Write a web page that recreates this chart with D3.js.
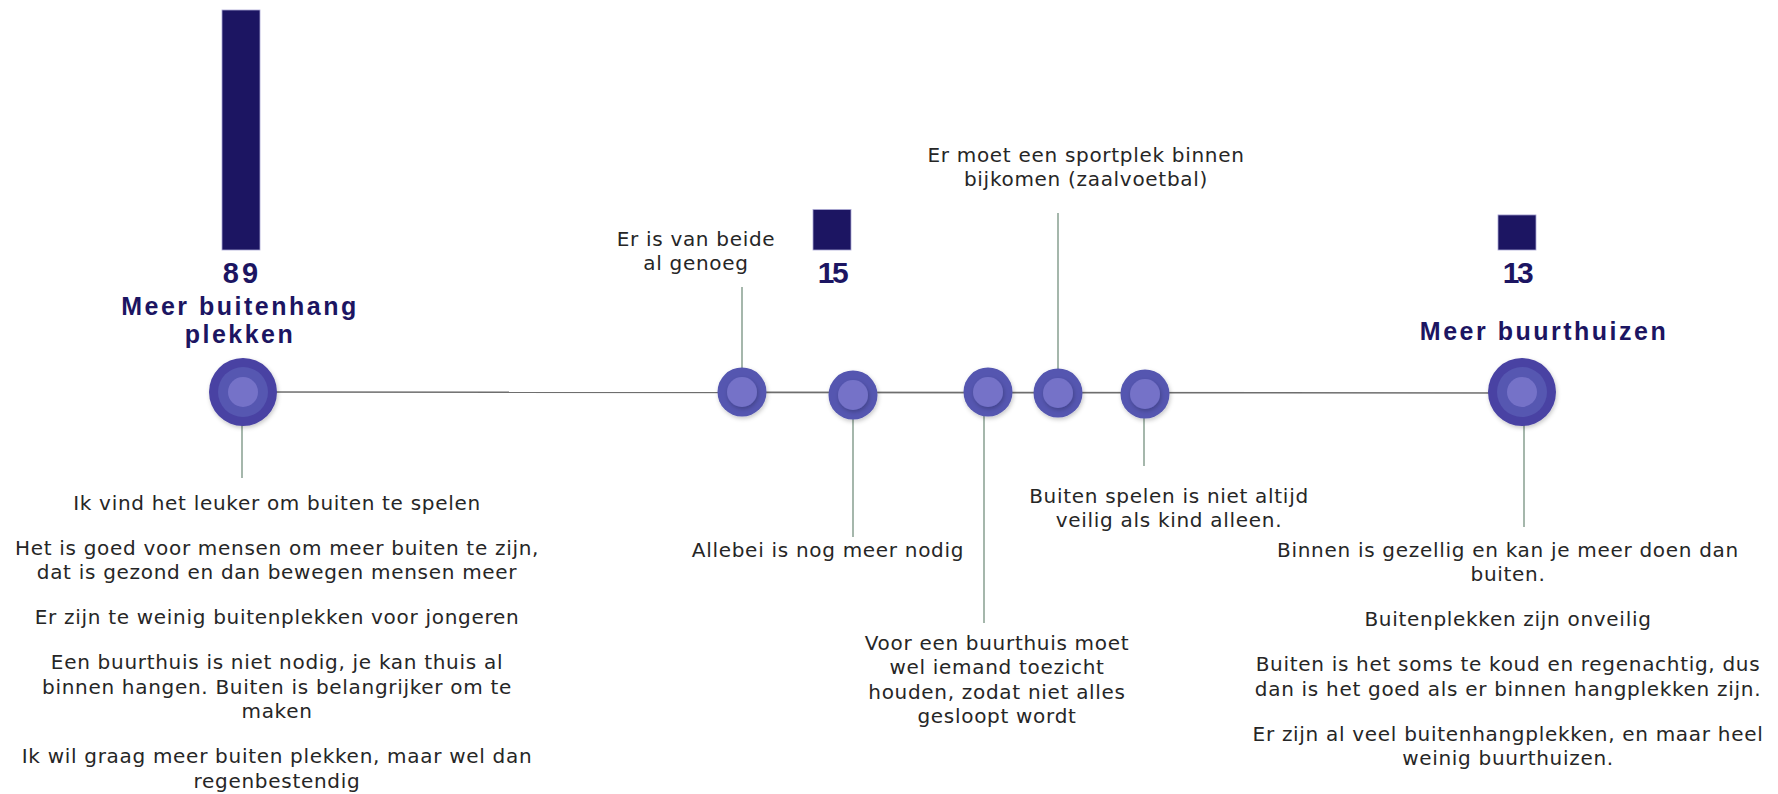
<!DOCTYPE html>
<html>
<head>
<meta charset="utf-8">
<script src="https://cdn.jsdelivr.net/npm/d3@7"></script>
<style>
  html, body { margin: 0; padding: 0; background: #ffffff; }
  svg { display: block; }
</style>
</head>
<body>
<svg id="chart" width="1778" height="794"></svg>
<script>
// ---------------- DATA ----------------
const barCategories = ["Meer buitenhang plekken", "Allebei", "Meer buurthuizen"];
const barValues = [89, 15, 13];
const barLabels = ["89", "15", "13"];

const mainLabels = [["Meer buitenhang", "plekken"], ["Meer buurthuizen"]];

const nodeNames = ["buiten", "genoeg", "allebei", "toezicht", "sportplek", "veilig", "buurthuizen"];

const quotesBuiten = [
  ["Ik vind het leuker om buiten te spelen"],
  ["Het is goed voor mensen om meer buiten te zijn,", "dat is gezond en dan bewegen mensen meer"],
  ["Er zijn te weinig buitenplekken voor jongeren"],
  ["Een buurthuis is niet nodig, je kan thuis al", "binnen hangen. Buiten is belangrijker om te", "maken"],
  ["Ik wil graag meer buiten plekken, maar wel dan", "regenbestendig"]
];
const quotesGenoeg = [["Er is van beide", "al genoeg"]];
const quotesAllebei = [["Allebei is nog meer nodig"]];
const quotesToezicht = [["Voor een buurthuis moet", "wel iemand toezicht", "houden, zodat niet alles", "gesloopt wordt"]];
const quotesSportplek = [["Er moet een sportplek binnen", "bijkomen (zaalvoetbal)"]];
const quotesVeilig = [["Buiten spelen is niet altijd", "veilig als kind alleen."]];
const quotesBuurthuizen = [
  ["Binnen is gezellig en kan je meer doen dan", "buiten."],
  ["Buitenplekken zijn onveilig"],
  ["Buiten is het soms te koud en regenachtig, dus", "dan is het goed als er binnen hangplekken zijn."],
  ["Er zijn al veel buitenhangplekken, en maar heel", "weinig buurthuizen."]
];

// ---------------- LAYOUT ----------------
const svg = d3.select("#chart");
const lineY = 392;

const nodeX = d3.scaleOrdinal().domain(nodeNames)
  .range([243, 742, 853, 988, 1058, 1145, 1522]);
const nodeBig = { buiten: true, buurthuizen: true };
const nodeCY = d3.scaleOrdinal().domain(nodeNames).range([392, 392, 395, 392, 393, 394, 392]);

const barX = d3.scaleOrdinal().domain(barCategories).range([241, 832, 1517]);
const barW = 38;
const yBar = d3.scaleLinear().domain([0, 89]).range([250, 10]);

const navy = "#1c1562";
const textColor = "#262626";
const stemColor = "#8fa597";
const bodyFont = "'DejaVu Sans', 'Open Sans', sans-serif";
const boldFont = "'Liberation Sans', Arial, sans-serif";

const defs = svg.append("defs");
const f = defs.append("filter").attr("id", "shadow")
  .attr("x", "-30%").attr("y", "-30%").attr("width", "160%").attr("height", "160%");
f.append("feDropShadow").attr("dx", 1).attr("dy", 2).attr("stdDeviation", 2)
  .attr("flood-color", "#000").attr("flood-opacity", 0.22);

// main line
svg.append("line")
  .attr("x1", nodeX("buiten")).attr("y1", lineY)
  .attr("x2", nodeX("buurthuizen")).attr("y2", lineY + 1)
  .attr("stroke", "#6e6e6e").attr("stroke-width", 1.6);

// stems: [node, endY, x]
const stems = [
  ["buiten", 478, 242],
  ["genoeg", 287, 742],
  ["allebei", 537, 853],
  ["toezicht", 623, 984],
  ["sportplek", 213, 1058],
  ["veilig", 466, 1144],
  ["buurthuizen", 527, 1524]
];
svg.selectAll("line.stem").data(stems).join("line")
  .attr("class", "stem")
  .attr("x1", d => d[2]).attr("x2", d => d[2])
  .attr("y1", d => nodeCY(d[0])).attr("y2", d => d[1])
  .attr("stroke", stemColor).attr("stroke-width", 1.6);

// circles
const nodesG = svg.selectAll("g.node").data(nodeNames).join("g")
  .attr("class", "node")
  .attr("transform", d => `translate(${nodeX(d)},${nodeCY(d)})`);
nodesG.each(function(d) {
  const g = d3.select(this);
  if (nodeBig[d]) {
    g.append("circle").attr("r", 34).attr("fill", "#4942a3").attr("filter", "url(#shadow)");
    g.append("circle").attr("r", 25).attr("fill", "#5657b1");
    g.append("circle").attr("r", 15).attr("fill", "#7572c8");
  } else {
    g.append("circle").attr("r", 24.5).attr("fill", "#5457b0").attr("filter", "url(#shadow)");
    g.append("circle").attr("r", 15).attr("fill", "#7472c8").attr("filter", "url(#shadow)");
  }
});

// bars
svg.selectAll("rect.bar").data(barValues).join("rect")
  .attr("class", "bar")
  .attr("x", (d, i) => barX(barCategories[i]) - barW / 2)
  .attr("width", barW)
  .attr("y", d => yBar(d))
  .attr("height", d => yBar(0) - yBar(d))
  .attr("fill", navy)
  .attr("stroke", "#aaa7d4").attr("stroke-width", 0.8);

// bar value labels
svg.selectAll("text.val").data(barLabels).join("text")
  .attr("class", "val")
  .attr("x", (d, i) => barX(barCategories[i]) + (i === 0 ? 1 : 0))
  .attr("y", 283)
  .attr("text-anchor", "middle")
  .attr("font-family", boldFont)
  .attr("font-weight", "bold")
  .attr("font-size", d => d === "89" ? 29 : 30)
  .attr("letter-spacing", d => d === "89" ? 3 : -2.5)
  .attr("fill", navy)
  .text(d => d);

// main category labels
const mainPos = [[240, [315, 343]], [1544, [340]]];
mainLabels.forEach((lines, i) => {
  const t = svg.append("text")
    .attr("text-anchor", "middle")
    .attr("font-family", boldFont)
    .attr("font-weight", "bold")
    .attr("font-size", 25)
    .attr("letter-spacing", 2.5)
    .attr("fill", navy);
  lines.forEach((ln, j) => {
    t.append("tspan").attr("x", mainPos[i][0]).attr("y", mainPos[i][1][j]).text(ln);
  });
});

// quote blocks
const lineH = 24.4, paraGap = 20.6;
function quoteBlock(paras, cx, y0) {
  const g = svg.append("g");
  let y = y0;
  paras.forEach(p => {
    p.forEach(ln => {
      g.append("text")
        .attr("x", cx).attr("y", y)
        .attr("text-anchor", "middle")
        .attr("font-family", bodyFont)
        .attr("font-size", 20)
        .attr("letter-spacing", 0.7)
        .attr("fill", textColor)
        .text(ln);
      y += lineH;
    });
    y += paraGap;
  });
}
quoteBlock(quotesBuiten, 277, 510);
quoteBlock(quotesGenoeg, 696, 246);
quoteBlock(quotesAllebei, 828, 557);
quoteBlock(quotesToezicht, 997, 650);
quoteBlock(quotesSportplek, 1086, 162);
quoteBlock(quotesVeilig, 1169, 503);
quoteBlock(quotesBuurthuizen, 1508, 557);
</script>
</body>
</html>
